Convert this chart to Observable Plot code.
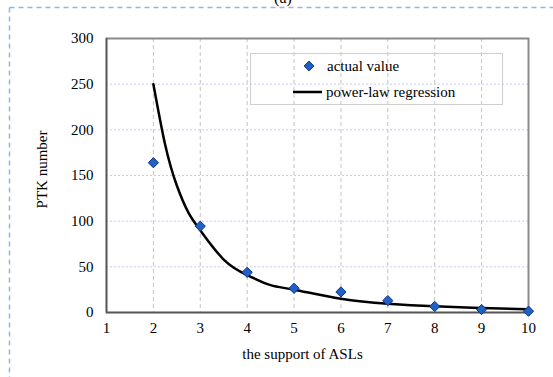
<!DOCTYPE html>
<html>
<head>
<meta charset="utf-8">
<script src="https://cdn.jsdelivr.net/npm/d3@7"></script>
<script src="https://cdn.jsdelivr.net/npm/@observablehq/plot@0.6"></script>
<style>
  html, body { margin: 0; padding: 0; background: #fff; }
  #wrap { position: relative; width: 553px; height: 377px; overflow: hidden; font-family: "Liberation Serif", "Times New Roman", serif; }
  #overlay { position: absolute; left: 0; top: 0; pointer-events: none; }
  #chart { position: absolute; left: 0; top: 0; }
</style>
</head>
<body>
<div id="wrap">
  <div id="chart"></div>
  <svg id="overlay" width="553" height="377"></svg>
</div>
<script>
// Data
const supportX = [2, 3, 4, 5, 6, 7, 8, 9, 10];
const actualValue = [164, 94.5, 44, 26.5, 22.5, 13, 6.6, 3.3, 1.4];
const regressionX = [2, 2.25, 2.5, 2.75, 3, 3.5, 4, 4.5, 5, 6, 7, 8, 9, 10];
const regressionY = [250, 184, 139, 109, 90, 58, 41, 30, 25, 15, 9.6, 6.8, 5, 3.4];
const xTicks = [1, 2, 3, 4, 5, 6, 7, 8, 9, 10];
const yTicks = [0, 50, 100, 150, 200, 250, 300];
const titleText = "(a)";
const xLabel = "the support of ASLs";
const yLabel = "PTK number";
const legendLabels = ["actual value", "power-law regression"];

const points = supportX.map((x, i) => ({x, y: actualValue[i]}));
const curve = regressionX.map((x, i) => ({x, y: regressionY[i]}));

const chart = Plot.plot({
  width: 553,
  height: 377,
  marginLeft: 106,
  marginRight: 25,
  marginTop: 38,
  marginBottom: 65,
  style: {fontFamily: "'Liberation Serif', 'Times New Roman', serif", fontSize: "15px", color: "#000", background: "transparent"},
  x: {domain: [1, 10]},
  y: {domain: [0, 300]},
  marks: [
    Plot.ruleX(xTicks.filter(d => d > 1 && d < 10), {stroke: "#c4c4c4", strokeDasharray: "4,3", strokeWidth: 1}),
    Plot.ruleY(yTicks.filter(d => d > 0 && d < 300), {stroke: "#c8c8f4", strokeDasharray: "2,2", strokeWidth: 1}),
    Plot.frame({stroke: "#8a8a8a", strokeWidth: 2}),
    Plot.ruleY([0], {stroke: "#555", strokeWidth: 1.5}),
    Plot.ruleX([1], {stroke: "#555", strokeWidth: 1.5}),
    Plot.axisX({ticks: xTicks, tickSize: 0, tickPadding: 10, fontSize: 15, label: null}),
    Plot.axisY({ticks: yTicks, tickSize: 0, tickPadding: 13, fontSize: 15, label: null}),
    Plot.text([xLabel], {frameAnchor: "bottom", dx: -15, dy: 42, fontSize: 15, lineAnchor: "middle", text: d => d}),
    Plot.text([yLabel], {frameAnchor: "left", dx: -64, dy: -6, rotate: -90, fontSize: 15, textAnchor: "middle", lineAnchor: "middle", text: d => d}),
    Plot.line(curve, {x: "x", y: "y", curve: "natural", stroke: "#000", strokeWidth: 2.5}),
    Plot.dot(points, {x: "x", y: "y", symbol: "diamond2", r: 4.6, fill: "#1f62c6", stroke: "#0f2f8c", strokeWidth: 1})
  ]
});
document.getElementById("chart").appendChild(chart);

// Outer dashed border, legend and clipped title
const ov = d3.select("#overlay");
ov.append("line").attr("x1", 9.5).attr("x2", 553).attr("y1", 7.5).attr("y2", 7.5)
  .attr("stroke", "#95b3e0").attr("stroke-width", 1.5).attr("stroke-dasharray", "5,4");
ov.append("line").attr("x1", 9.5).attr("x2", 9.5).attr("y1", 7.5).attr("y2", 377)
  .attr("stroke", "#95b3e0").attr("stroke-width", 1.5).attr("stroke-dasharray", "5,4");
ov.append("text").attr("x", 283).attr("y", 3).attr("text-anchor", "middle")
  .attr("font-family", "'Liberation Serif', serif").attr("font-size", 16).text(titleText);
ov.append("rect").attr("x", 250.5).attr("y", 53.5).attr("width", 252).attr("height", 51)
  .attr("fill", "none").attr("stroke", "#cfcfcf").attr("stroke-width", 1);
ov.append("path").attr("d", d3.symbol(d3.symbolDiamond2, Math.PI * 4.4 * 4.4)())
  .attr("transform", "translate(309,66)").attr("fill", "#1f62c6").attr("stroke", "#0f2f8c");
ov.append("text").attr("x", 327).attr("y", 66).attr("dy", "0.35em")
  .attr("font-family", "'Liberation Serif', serif").attr("font-size", 15).text(legendLabels[0]);
ov.append("line").attr("x1", 293).attr("x2", 322).attr("y1", 92).attr("y2", 92)
  .attr("stroke", "#000").attr("stroke-width", 2.5);
ov.append("text").attr("x", 326).attr("y", 92).attr("dy", "0.35em")
  .attr("font-family", "'Liberation Serif', serif").attr("font-size", 15).text(legendLabels[1]);
</script>
</body>
</html>
